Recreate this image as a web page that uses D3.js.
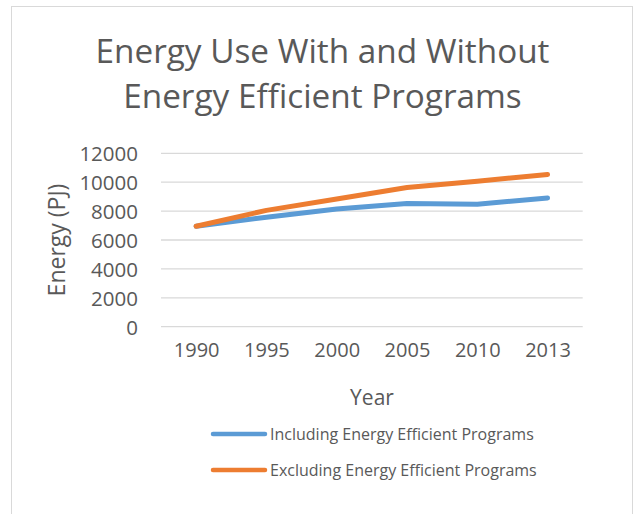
<!DOCTYPE html>
<html><head><meta charset="utf-8">
<script src="https://cdn.jsdelivr.net/npm/d3@7"></script>
<style>body{margin:0;background:#fff;} text{font-family:"Open Sans",sans-serif;fill:#595959;}</style>
</head><body>
<svg id="c" width="636" height="514"></svg>
<script>
const years = ["1990","1995","2000","2005","2010","2013"];
const including = [6950, 7580, 8150, 8520, 8470, 8910];
const excluding = [6950, 8050, 8840, 9630, 10070, 10530];
const yTicks = [0, 2000, 4000, 6000, 8000, 10000, 12000];
const seriesNames = ["Including Energy Efficient Programs", "Excluding Energy Efficient Programs"];
const colors = ["#5B9BD5", "#ED7D31"];
const titleLines = ["Energy Use With and Without", "Energy Efficient Programs"];

const svg = d3.select("#c");
svg.append("rect").attr("x",11.5).attr("y",6.5).attr("width",621).attr("height",520)
  .attr("fill","#fff").attr("stroke","#d9d9d9").attr("stroke-width",1);

const x = d3.scalePoint().domain(years).range([161, 582.7]).padding(0.5);
const y = d3.scaleLinear().domain([0,12000]).range([326.7, 153.3]);

// gridlines
svg.append("g").selectAll("line").data(yTicks).join("line")
  .attr("x1",161).attr("x2",582.7).attr("y1",d=>y(d)).attr("y2",d=>y(d))
  .attr("stroke","#d9d9d9").attr("stroke-width",1.3);

// y axis labels
const ya = svg.append("g").attr("transform","translate(138,0)")
  .call(d3.axisLeft(y).tickValues(yTicks).tickSize(0).tickPadding(0).tickFormat(d3.format("d")));
ya.select(".domain").remove();
ya.selectAll("text").style("font-size","20.5px").attr("font-family",null).attr("fill","#595959").attr("dy","0.36em");

// x axis labels
const xa = svg.append("g").attr("transform","translate(0,343)")
  .call(d3.axisBottom(x).tickSize(0).tickPadding(0));
xa.select(".domain").remove();
xa.selectAll("text").style("font-size","20px").attr("fill","#595959").attr("dy","0.71em");

// titles
svg.append("g").selectAll("text").data(titleLines).join("text")
  .attr("x",322.5).attr("y",(d,i)=>63+i*44.5).attr("text-anchor","middle")
  .style("font-size","33.3px").text(d=>d);
svg.append("text").attr("x",372).attr("y",405).attr("text-anchor","middle").style("font-size","21px").text("Year");
svg.append("text").attr("transform","translate(64.5,240) rotate(-90)").attr("text-anchor","middle")
  .style("font-size","23px").text("Energy (PJ)");

// lines
const line = d3.line().x((d,i)=>x(years[i])).y(d=>y(d));
[including, excluding].forEach((s,k)=>{
  svg.append("path").datum(s).attr("d",line).attr("fill","none")
    .attr("stroke",colors[k]).attr("stroke-width",5).attr("stroke-linecap","round").attr("stroke-linejoin","round");
});

// legend
const lg = svg.append("g").selectAll("g").data(seriesNames).join("g")
  .attr("transform",(d,i)=>`translate(0,${434+i*36})`);
lg.append("line").attr("x1",213).attr("x2",265).attr("stroke",(d,i)=>colors[i])
  .attr("stroke-width",4.5).attr("stroke-linecap","round");
lg.append("text").attr("x",270).attr("dy","0.35em").style("font-size","16px").text(d=>d);
</script>
</body></html>
